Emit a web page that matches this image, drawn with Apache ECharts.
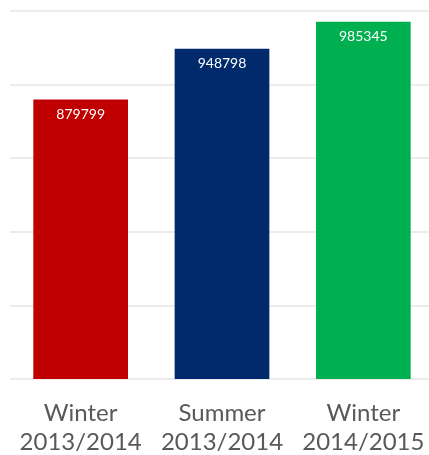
<!DOCTYPE html>
<html>
<head>
<meta charset="utf-8">
<script src="https://cdn.jsdelivr.net/npm/echarts@6/dist/echarts.min.js"></script>
<style>
  html, body { margin: 0; padding: 0; background: #fff; }
  #chart { width: 429px; height: 455px; }
</style>
</head>
<body>
<div id="chart"></div>
<script>
const categories = ['Winter\n2013/2014', 'Summer\n2013/2014', 'Winter\n2014/2015']
const values = [879799, 948798, 985345]
const barColors = ['#C00000', '#002A6B', '#00B050']

const chart = echarts.init(document.getElementById('chart'))
const option = {
  animation: false,
  grid: {
    left: 10,
    right: -5,
    top: 11,
    bottom: 76,
    outerBoundsMode: 'none'
  },
  xAxis: {
    type: 'category',
    data: categories,
    axisLine: { show: false },
    axisTick: { show: false },
    axisLabel: {
      interval: 0,
      hideOverlap: false,
      color: '#595959',
      fontFamily: 'Lato',
      fontSize: 24,
      lineHeight: 29,
      margin: 20
    }
  },
  yAxis: {
    type: 'value',
    min: 500000,
    max: 1000000,
    interval: 100000,
    axisLabel: { show: false },
    axisLine: { show: false },
    axisTick: { show: false },
    splitLine: { lineStyle: { color: '#E6E6E6', width: 1.5 } }
  },
  series: [{
    type: 'bar',
    barWidth: '67%',
    data: values.map((v, i) => ({
      value: v,
      itemStyle: { color: barColors[i] }
    })),
    label: {
      show: true,
      position: 'insideTop',
      distance: 8,
      color: '#fff',
      fontFamily: 'Lato',
      fontSize: 14
    }
  }]
}
chart.setOption(option)
</script>
</body>
</html>
